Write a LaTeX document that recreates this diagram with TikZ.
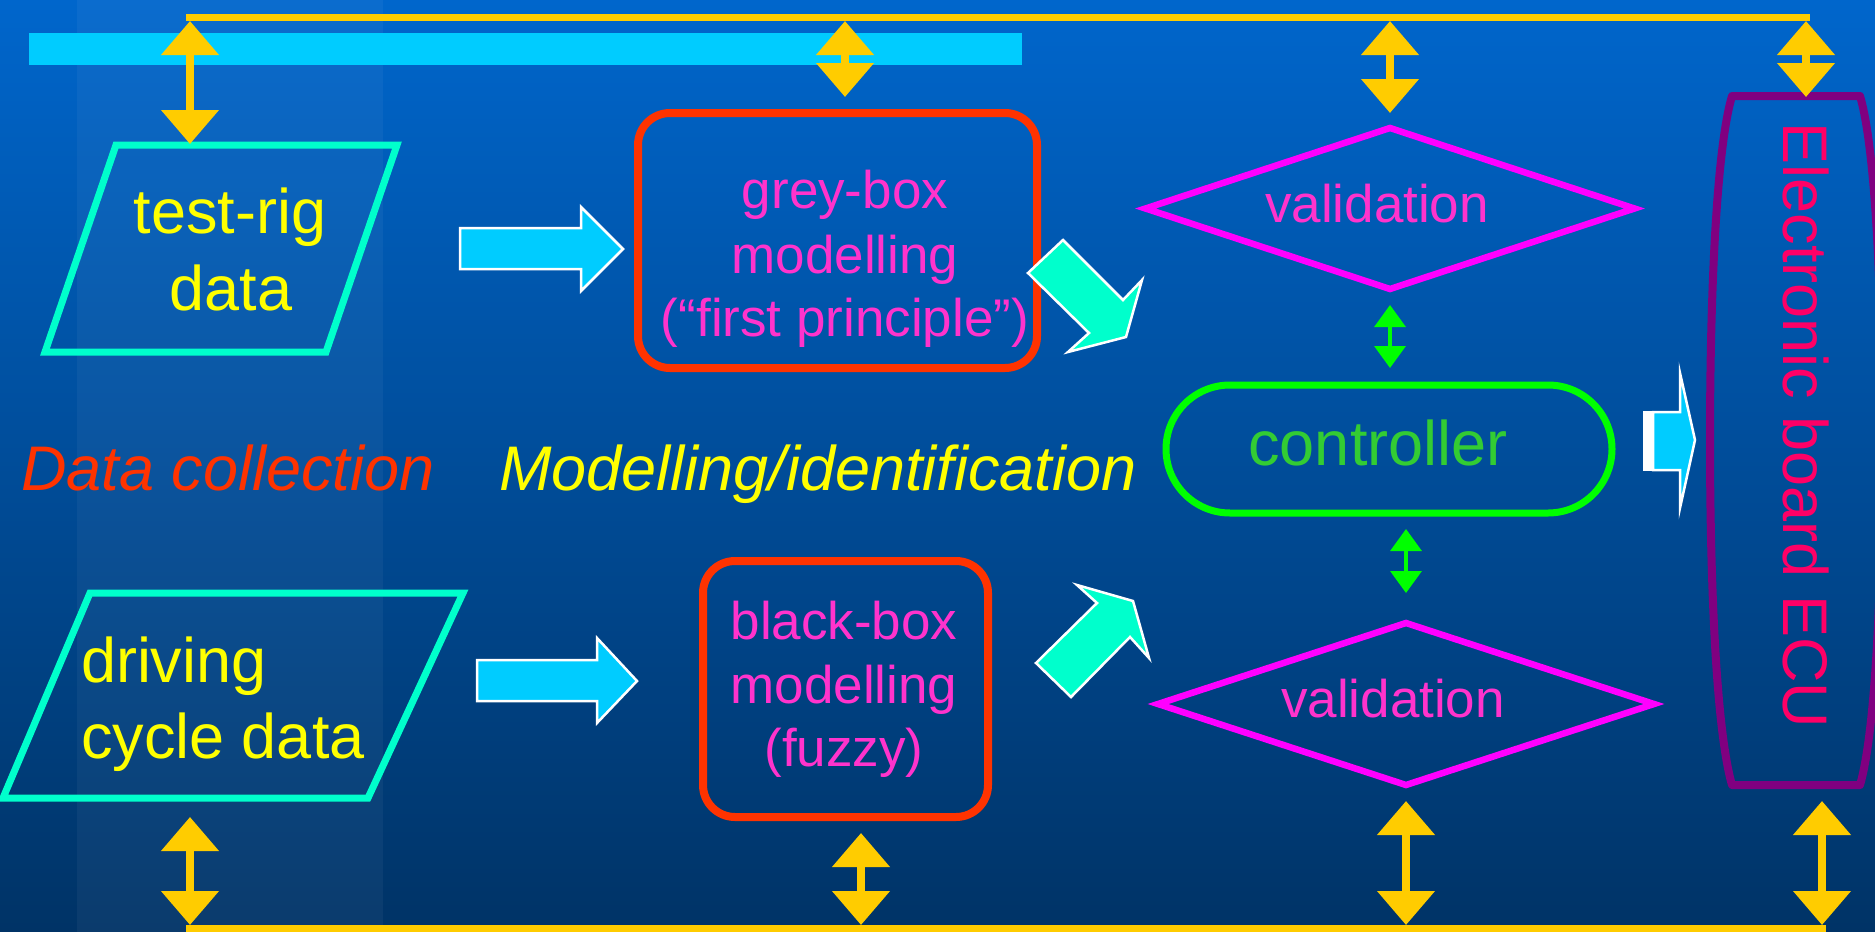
\documentclass[tikz,border=0pt]{standalone}
\usepackage{fontspec}
\setmainfont{Liberation Sans}
\usetikzlibrary{arrows.meta,shapes.geometric}
\definecolor{bgtop}{HTML}{0066CC}
\definecolor{bgbot}{HTML}{003366}
\definecolor{ylw}{HTML}{FFCC00}
\definecolor{cyanc}{HTML}{00CCFF}
\definecolor{turq}{HTML}{00FFCC}
\definecolor{boxred}{HTML}{FF3300}
\definecolor{pinktxt}{HTML}{FF33CC}
\definecolor{magc}{HTML}{FF00FF}
\definecolor{grn}{HTML}{00FF00}
\definecolor{ctrltxt}{HTML}{33CC33}
\definecolor{purp}{HTML}{800080}
\definecolor{ecutxt}{HTML}{FF0066}
\definecolor{yeltxt}{HTML}{FFFF00}
\definecolor{dcoltxt}{HTML}{FF3300}
\begin{document}
\begin{tikzpicture}[x=1pt,y=-1pt,
  bus/.style={draw=ylw,line width=7pt},
  ybi/.style={draw=ylw,line width=8pt,arrows={Triangle[width=56pt,length=34pt]-Triangle[width=56pt,length=34pt]}},
  gbi/.style={draw=grn,line width=3.5pt,arrows={Triangle[width=31pt,length=22pt]-Triangle[width=31pt,length=22pt]}},
  redbox/.style={draw=boxred,line width=8pt,rounded corners=32pt,inner sep=0pt,outer sep=0pt},
  valbox/.style={diamond,draw=magc,line width=6.5pt,inner sep=0pt,outer sep=0pt},
  parabox/.style={draw=turq,line width=7pt,line join=miter},
  blockcyan/.style={fill=cyanc,draw=white,line width=2.5pt,line join=miter},
  blockturq/.style={fill=turq,draw=white,line width=2.5pt,line join=miter},
  bigtxt/.style={inner sep=0pt,outer sep=0pt,font=\fontsize{63}{76}\selectfont},
  midtxt/.style={inner sep=0pt,outer sep=0pt,font=\fontsize{53}{64}\selectfont},
  ittxt/.style={inner sep=0pt,outer sep=0pt,font=\fontsize{63}{76}\selectfont\itshape}
]
\useasboundingbox (0,0) rectangle (1875,932);
% background
\shade[top color=bgtop,bottom color=bgbot] (0,0) rectangle (1875,932);
\fill[white,fill opacity=0.045] (77,0) rectangle (383,932);
% cyan title bar
\fill[cyanc] (29,33) rectangle (1022,65);

% bus lines
\coordinate (busTL) at (186,17);
\coordinate (busTR) at (1810,17);
\coordinate (busBL) at (186,928);
\coordinate (busBR) at (1826,928);
\draw[bus] (busTL) -- (busTR);
\draw[bus] (busBL) -- (busBR);

% parallelograms
\draw[parabox] (116,145) -- (397,145) -- (326,352) -- (45,352) -- cycle;
\coordinate (trig) at (221,248);
\draw[parabox] (90,593) -- (463,593) -- (368,798) -- (3,798) -- cycle;
\coordinate (drv) at (233,695);

% boxes
\node[redbox,minimum width=399pt,minimum height=255pt] (grey) at (837.5,240.5) {};
\node[redbox,minimum width=285pt,minimum height=256pt] (black) at (845.5,689) {};

% diamonds
\node[valbox,minimum width=489pt,minimum height=161pt] (val1) at (1390,208.5) {};
\node[valbox,minimum width=496pt,minimum height=162pt] (val2) at (1406,704) {};

% controller
\node[draw=grn,line width=7pt,rounded corners=64pt,minimum width=446pt,minimum height=128pt,inner sep=0pt,outer sep=0pt] (ctrl) at (1389,449) {};

% ECU board
\draw[draw=purp,line width=8pt,line join=round]
  (1732,96) -- (1860,96) .. controls (1876,150) and (1882,300) .. (1882,440)
  .. controls (1882,580) and (1876,730) .. (1860,785) -- (1732,785)
  .. controls (1716,730) and (1710,580) .. (1710,440)
  .. controls (1710,300) and (1716,150) .. (1732,96) -- cycle;
\coordinate (ecutop) at (1806,97);
\coordinate (ecubot) at (1822,785);

% cyan block arrows
\draw[blockcyan] (460,228) -- (581,228) -- (581,207) -- (623,249) -- (581,291) -- (581,269) -- (460,269) -- cycle;
\draw[blockcyan] (477,660) -- (597,660) -- (597,638) -- (637,681) -- (597,723) -- (597,701) -- (477,701) -- cycle;
\fill[white] (1643,411) rectangle (1654,471);
\draw[blockcyan] (1653,412) -- (1680,412) -- (1680,373) -- (1695,440) -- (1680,508) -- (1680,470) -- (1653,470) -- cycle;
\draw[white,line width=2.5pt] (1644,412) -- (1653,412) (1644,470) -- (1653,470) (1644,412) -- (1644,470);

% turquoise diagonal block arrows
\draw[blockturq] (1063,240) -- (1123,300) -- (1142,280) -- (1126,337) -- (1068,352) -- (1089,333) -- (1028,273) -- cycle;
\draw[blockturq] (1036,663) -- (1097,603) -- (1077,585) -- (1133,601) -- (1149,658) -- (1130,637) -- (1071,697) -- cycle;

% yellow bus taps (top)
\coordinate (t1) at (190,21);
\coordinate (t2) at (845,21);
\coordinate (t3) at (1390,21);
\coordinate (t4) at (1806,21);
\coordinate (trigtop) at (190,144);
\draw[ybi] (t1) -- (trigtop);
\draw[ybi,shorten >=16pt] (t2) -- (t2 |- grey.north);
\draw[ybi,shorten >=15pt] (t3) -- (val1.north);
\draw[ybi] (t4) -- (ecutop);

% yellow bus taps (bottom)
\coordinate (b1) at (190,925);
\coordinate (b2) at (861,925);
\coordinate (b3) at (1406,925);
\coordinate (b4) at (1822,925);
\coordinate (drvbot) at (190,817);
\draw[ybi] (drvbot) -- (b1);
\draw[ybi,shorten <=16pt] (b2 |- black.south) -- (b2);
\draw[ybi,shorten <=16pt] (val2.south) -- (b3);
\draw[ybi,shorten <=16pt] (ecubot) -- (b4);

% green links
\draw[gbi,shorten <=16pt,shorten >=17pt] (val1.south) -- (val1.south |- ctrl.north);
\draw[gbi,shorten <=16pt,shorten >=30pt] (ctrl.south -| val2.north) -- (val2.north);

% texts
\node[bigtxt,text=yeltxt,anchor=base] (trigA) at (230,233) {test-rig};
\node[bigtxt,text=yeltxt,anchor=base] (trigB) at (231,310) {data};
\node[bigtxt,text=yeltxt,anchor=base west] (drvA) at (81,682) {driving};
\node[bigtxt,text=yeltxt,anchor=base west] (drvB) at (81,758) {cycle data};

\node[midtxt,text=pinktxt,anchor=base] (greyA) at (845,208) {grey-box};
\node[midtxt,text=pinktxt,anchor=base] (greyB) at (845,273) {modelling};
\node[midtxt,text=pinktxt,anchor=base] (greyC) at (845,336) {(“first principle”)};

\node[midtxt,text=pinktxt,anchor=base] (blackA) at (844,639) {black-box};
\node[midtxt,text=pinktxt,anchor=base] (blackB) at (844,703) {modelling};
\node[midtxt,text=pinktxt,anchor=base] (blackC) at (844,766) {(fuzzy)};

\node[midtxt,text=pinktxt,anchor=base] (valA) at (1377,222) {validation};
\node[midtxt,text=pinktxt,anchor=base] (valB) at (1393,717) {validation};

\node[bigtxt,text=ctrltxt,anchor=base] (ctrlt) at (1378,465) {controller};

\node[ittxt,text=dcoltxt,anchor=base west] (dcol) at (21,490) {Data collection};
\node[ittxt,text=yeltxt,anchor=base west] (mident) at (499,490) {Modelling/identification};

\node[bigtxt,text=ecutxt,rotate=-90] (ecut) at (1806,425.5) {Electronic board ECU};
\end{tikzpicture}
\end{document}
